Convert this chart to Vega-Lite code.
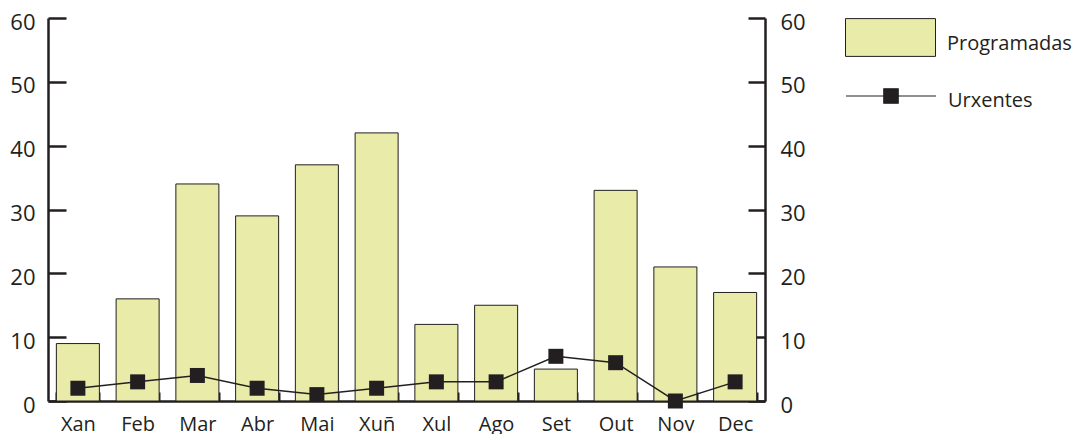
{
  "$schema": "https://vega.github.io/schema/vega-lite/v6.json",
  "width": 717,
  "height": 383,
  "autosize": {"type": "none"},
  "padding": {"left": 48, "top": 18, "right": 324, "bottom": 33},
  "background": "white",
  "config": {
    "view": {"stroke": null},
    "font": "Open Sans",
    "axis": {
      "domainColor": "#231f20",
      "domainWidth": 2.5,
      "tickColor": "#231f20",
      "tickWidth": 2.5,
      "labelColor": "#231f20",
      "labelFont": "Open Sans",
      "grid": false,
      "title": null
    },
    "legend": {"padding": 0, "labelFont": "Open Sans", "labelFontSize": 20, "labelColor": "#231f20", "title": null}
  },
  "data": {
    "values": [
      {"mes": "Xan", "programadas": 9, "urxentes": 2},
      {"mes": "Feb", "programadas": 16, "urxentes": 3},
      {"mes": "Mar", "programadas": 34, "urxentes": 4},
      {"mes": "Abr", "programadas": 29, "urxentes": 2},
      {"mes": "Mai", "programadas": 37, "urxentes": 1},
      {"mes": "Xuñ", "programadas": 42, "urxentes": 2},
      {"mes": "Xul", "programadas": 12, "urxentes": 3},
      {"mes": "Ago", "programadas": 15, "urxentes": 3},
      {"mes": "Set", "programadas": 5, "urxentes": 7},
      {"mes": "Out", "programadas": 33, "urxentes": 6},
      {"mes": "Nov", "programadas": 21, "urxentes": 0},
      {"mes": "Dec", "programadas": 17, "urxentes": 3}
    ]
  },
  "encoding": {
    "x": {
      "field": "mes",
      "type": "nominal",
      "sort": null,
      "scale": {"paddingInner": 0.28, "paddingOuter": 0.14},
      "axis": {
        "labelAngle": 0,
        "labelFontSize": 20,
        "tickBand": "extent",
        "tickSize": -9,
        "tickWidth": 2,
        "labelPadding": 22
      }
    }
  },
  "layer": [
    {
      "mark": {"type": "bar", "stroke": "#231f20", "strokeWidth": 1},
      "encoding": {
        "y": {
          "field": "programadas",
          "type": "quantitative",
          "scale": {"domain": [0, 60], "nice": false},
          "axis": {
            "orient": "left",
            "values": [0, 10, 20, 30, 40, 50, 60],
            "labelFontSize": 22,
            "tickSize": -18,
            "labelPadding": 31,
            "labelOffset": 4
          }
        },
        "fill": {
          "datum": "Programadas",
          "type": "nominal",
          "scale": {"range": ["#e9eca9"]},
          "legend": {
            "orient": "none",
            "legendX": 797,
            "legendY": -26,
            "symbolType": "M-1,-0.42H1V0.42H-1Z",
            "symbolSize": 8100,
            "symbolStrokeColor": "#231f20",
            "symbolStrokeWidth": 1,
            "labelOffset": 11,
            "encode": {"labels": {"update": {"dy": {"value": 6}}}}
          }
        }
      }
    },
    {
      "mark": {"type": "line", "strokeWidth": 1.5},
      "encoding": {
        "y": {
          "field": "urxentes",
          "type": "quantitative",
          "scale": {"domain": [0, 60], "nice": false},
          "axis": {
            "orient": "right",
            "values": [0, 10, 20, 30, 40, 50, 60],
            "labelFontSize": 22,
            "tickSize": -17,
            "labelPadding": 32,
            "labelOffset": 4
          }
        },
        "stroke": {
          "datum": "Urxentes",
          "type": "nominal",
          "scale": {"range": ["#231f20"]},
          "legend": {
            "orient": "none",
            "legendX": 797,
            "legendY": 32,
            "symbolType": "M-1,0H1M-0.16,-0.16H0.16V0.16H-0.16Z",
            "symbolSize": 8100,
            "symbolFillColor": "#231f20",
            "symbolStrokeWidth": 1.2,
            "labelOffset": 11,
            "encode": {"labels": {"update": {"dy": {"value": 5}}}}
          }
        }
      }
    },
    {
      "mark": {"type": "point", "shape": "square", "filled": true, "size": 225, "color": "#231f20", "opacity": 1},
      "encoding": {
        "y": {"field": "urxentes", "type": "quantitative", "scale": {"domain": [0, 60], "nice": false}, "axis": null}
      }
    }
  ],
  "resolve": {"axis": {"y": "independent"}}
}
